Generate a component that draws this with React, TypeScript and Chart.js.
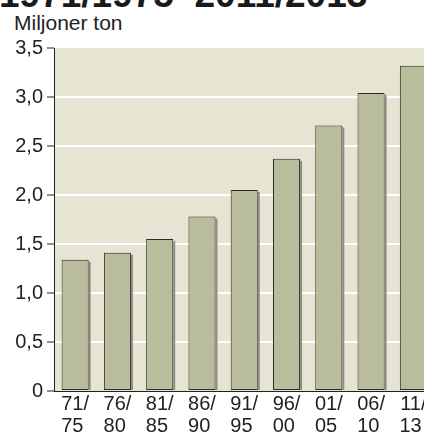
import { useEffect, useRef } from 'react';
import { Chart, registerables } from 'chart.js';

Chart.register(...registerables);

const periodStart = ['71/', '76/', '81/', '86/', '91/', '96/', '01/', '06/', '11/'];
const periodEnd = ['75', '80', '85', '90', '95', '00', '05', '10', '13'];
const values = [1.34, 1.41, 1.55, 1.78, 2.05, 2.37, 2.71, 3.04, 3.32];
const yTickLabels = ['0', '0,5', '1,0', '1,5', '2,0', '2,5', '3,0', '3,5'];
const titleText = '1971/1975–2011/2013';
const unitText = 'Miljoner ton';

const FONT = "'Liberation Sans', Arial, Helvetica, sans-serif";
const PLOT_BG = '#e6e4d2';
const BAR_FILL = '#b9bd9b';
const BAR_EDGE = '#2b2b27';
const SHADOW = '#8e8e84';
const INK = '#222222';

const bgPlugin = {
  id: 'plotBg',
  beforeDraw(chart: any) {
    const { ctx, chartArea } = chart;
    ctx.save();
    ctx.fillStyle = PLOT_BG;
    ctx.fillRect(chartArea.left, chartArea.top, chartArea.right - chartArea.left, chartArea.bottom - chartArea.top);
    ctx.restore();
  },
};

const shadowPlugin = {
  id: 'barShadow',
  beforeDatasetsDraw(chart: any) {
    const { ctx } = chart;
    const meta = chart.getDatasetMeta(0);
    ctx.save();
    ctx.fillStyle = SHADOW;
    meta.data.forEach((el: any) => {
      const { x, y, base, width } = el.getProps(['x', 'y', 'base', 'width'], true);
      ctx.fillRect(x + width / 2, y + 2, 2, base - y - 2);
    });
    ctx.restore();
  },
};

export default function App() {
  const ref = useRef<HTMLCanvasElement | null>(null);

  useEffect(() => {
    document.body.style.margin = '0';
    document.body.style.overflow = 'hidden';
    if (!ref.current) return;
    const labels = periodStart.map((s, i) => [s, periodEnd[i] + ' ']);
    const chart = new Chart(ref.current, {
      type: 'bar',
      data: {
        labels,
        datasets: [
          {
            data: values,
            backgroundColor: BAR_FILL,
            borderColor: BAR_EDGE,
            borderWidth: 1,
            borderSkipped: false,
            barPercentage: 0.64,
            categoryPercentage: 1,
          },
        ],
      },
      options: {
        responsive: false,
        animation: false,
        layout: { padding: { top: 48, right: 5.5, left: 0, bottom: 0 } },
        plugins: { legend: { display: false }, tooltip: { enabled: false }, title: { display: false } },
        scales: {
          x: {
            grid: { display: false, drawTicks: false },
            border: { display: true, color: INK, width: 1 },
            ticks: {
              color: INK,
              font: { family: FONT, size: 20, lineHeight: 1.09 },
              padding: 3,
              maxRotation: 0,
              autoSkip: false,
            },
            afterFit(scale: any) {
              scale.height = 45;
            },
          },
          y: {
            min: 0,
            max: 3.5,
            grid: {
              color: (c: any) => (c.tick && (c.tick.value === 0 || c.tick.value === 3.5) ? 'rgba(0,0,0,0)' : '#ffffff'),
              lineWidth: 2,
              tickColor: INK,
              tickWidth: 1,
              tickLength: 7,
            },
            border: { display: true, color: INK, width: 1 },
            ticks: {
              stepSize: 0.5,
              color: INK,
              padding: 4,
              font: { family: FONT, size: 20 },
              callback: (_v: any, i: number) => yTickLabels[i],
            },
            afterFit(scale: any) {
              scale.width = 54;
            },
          },
        },
      },
      plugins: [bgPlugin, shadowPlugin],
    });
    return () => chart.destroy();
  }, []);

  return (
    <div style={{ position: 'relative', width: 424, height: 436, overflow: 'hidden', background: '#ffffff' }}>
      <div
        style={{
          position: 'absolute',
          left: -1,
          top: -23,
          fontFamily: FONT,
          fontWeight: 'bold',
          fontSize: 37,
          lineHeight: '35px',
          color: '#1a1a1a',
          whiteSpace: 'nowrap',
        }}
      >
        {titleText}
      </div>
      <div
        style={{
          position: 'absolute',
          left: 14,
          top: 12,
          fontFamily: FONT,
          fontSize: 21,
          lineHeight: '21px',
          color: INK,
          whiteSpace: 'nowrap',
        }}
      >
        {unitText}
      </div>
      <canvas ref={ref} width={440} height={436} style={{ position: 'absolute', left: 0, top: 0 }} />
    </div>
  );
}
